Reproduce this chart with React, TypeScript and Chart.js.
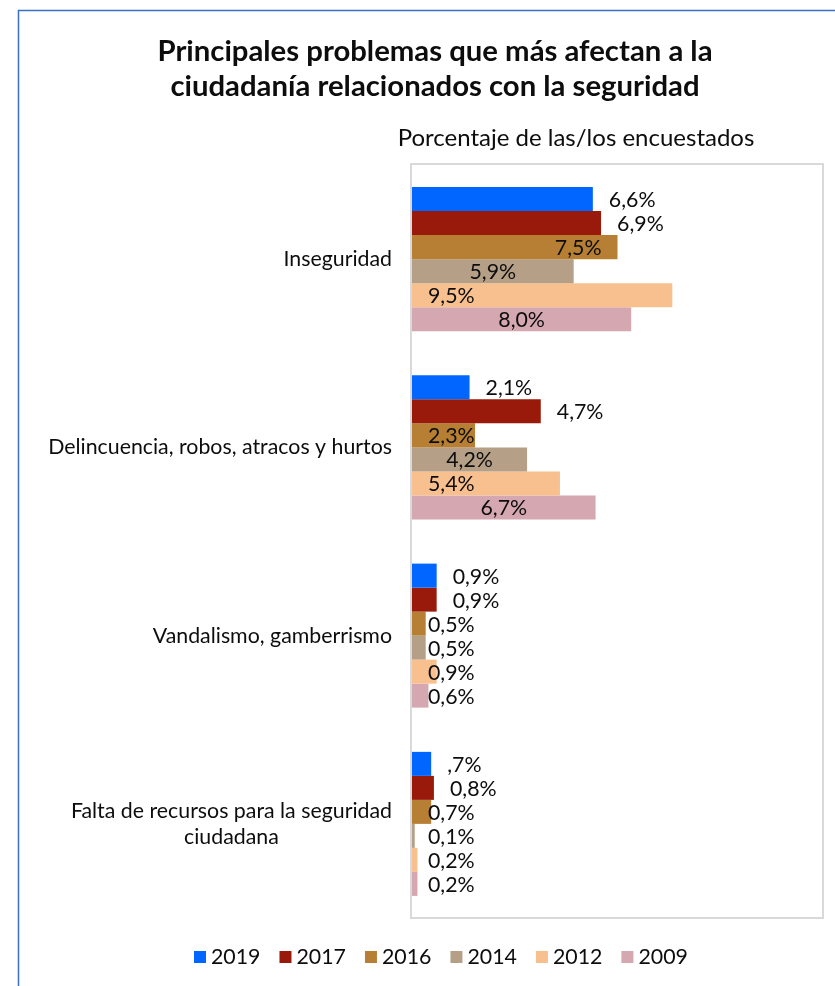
import React, { useEffect, useRef } from 'react';
import { Chart, registerables } from 'chart.js';

Chart.register(...registerables);

const titleLines = ['Principales problemas que más afectan a la', 'ciudadanía relacionados con la seguridad'];
const subtitle = 'Porcentaje de las/los encuestados';

const categories: string[][] = [
  ['Inseguridad'],
  ['Delincuencia, robos, atracos y hurtos'],
  ['Vandalismo, gamberrismo'],
  ['Falta de recursos para la seguridad', 'ciudadana'],
];

const years = ['2019', '2017', '2016', '2014', '2012', '2009'];

const v2019 = [6.6, 2.1, 0.9, 0.7];
const v2017 = [6.9, 4.7, 0.9, 0.8];
const v2016 = [7.5, 2.3, 0.5, 0.7];
const v2014 = [5.9, 4.2, 0.5, 0.1];
const v2012 = [9.5, 5.4, 0.9, 0.2];
const v2009 = [8.0, 6.7, 0.6, 0.2];

const seriesValues = [v2019, v2017, v2016, v2014, v2012, v2009];

// label text overrides (as shown in the original chart)
const labelOverrides: Record<string, string> = { '0-3': ',7%' };

// where each data label sits relative to its bar
const placements: string[][] = [
  ['out', 'out', 'out', 'out'],
  ['out', 'out', 'out', 'out'],
  ['insideEnd', 'insideBase', 'insideBase', 'insideBase'],
  ['center', 'center', 'insideBase', 'insideBase'],
  ['insideBase', 'insideBase', 'insideBase', 'insideBase'],
  ['center', 'center', 'insideBase', 'insideBase'],
];

const colors = ['#0066FF', '#991A0B', '#B67F34', '#B59F87', '#F9C08F', '#D5A7B0'];

const FONT = 'Lato, "Open Sans", sans-serif';
const TEXT = '#0d0d0d';

const fmt = (v: number) => v.toFixed(1).replace('.', ',') + '%';

const overlay = {
  id: 'overlay',
  afterDraw(chart: any) {
    const ctx = chart.ctx as CanvasRenderingContext2D;
    const area = chart.chartArea;
    const W = chart.width;
    const H = chart.height;
    ctx.save();

    // outer frame
    ctx.strokeStyle = '#3A6FC4';
    ctx.lineWidth = 1.5;
    ctx.beginPath();
    ctx.moveTo(18.5, H);
    ctx.lineTo(18.5, 10.5);
    ctx.lineTo(W, 10.5);
    ctx.stroke();

    // plot frame
    ctx.strokeStyle = '#D9D9D9';
    ctx.lineWidth = 2;
    ctx.strokeRect(area.left - 1, area.top - 1, area.right - area.left + 1, area.bottom - area.top + 1);

    // title
    ctx.fillStyle = TEXT;
    ctx.textAlign = 'center';
    ctx.textBaseline = 'middle';
    ctx.font = `bold 29.3px ${FONT}`;
    ctx.fillText(titleLines[0], 435, 52);
    ctx.fillText(titleLines[1], 435, 87);

    // subtitle
    ctx.font = `24px ${FONT}`;
    ctx.fillText(subtitle, 576, 138);

    // category labels
    ctx.font = `21.33px ${FONT}`;
    const yScale = chart.scales.y;
    const rightEdge = area.left - 20;
    categories.forEach((lines, i) => {
      const cy = yScale.getPixelForValue(i);
      const widths = lines.map((l) => ctx.measureText(l).width);
      const wMax = Math.max(...widths);
      const cx = rightEdge - wMax / 2;
      const lh = 26;
      const y0 = cy - ((lines.length - 1) * lh) / 2;
      ctx.textAlign = 'center';
      lines.forEach((l, k) => ctx.fillText(l, cx, y0 + k * lh));
    });

    // data labels
    ctx.font = `21.33px ${FONT}`;
    seriesValues.forEach((vals, s) => {
      const meta = chart.getDatasetMeta(s);
      vals.forEach((v, j) => {
        const el: any = meta.data[j];
        const text = labelOverrides[`${s}-${j}`] ?? fmt(v);
        const mode = placements[s][j];
        const base = el.base;
        const end = el.x;
        let x = 0;
        if (mode === 'out') {
          ctx.textAlign = 'left';
          x = end + 16;
        } else if (mode === 'insideBase') {
          ctx.textAlign = 'left';
          x = base + 16;
        } else if (mode === 'insideEnd') {
          ctx.textAlign = 'right';
          x = end - 16;
        } else {
          ctx.textAlign = 'center';
          x = (base + end) / 2;
        }
        ctx.fillText(text, x, el.y + 1);
      });
    });

    // legend
    ctx.font = `21.33px ${FONT}`;
    ctx.textAlign = 'left';
    let lx = 194;
    const ly = 957;
    years.forEach((y, i) => {
      ctx.fillStyle = colors[i];
      ctx.fillRect(lx, ly - 6, 12, 12);
      ctx.fillStyle = TEXT;
      ctx.fillText(y, lx + 17, ly);
      lx += 17 + ctx.measureText(y).width + 19;
    });

    ctx.restore();
  },
};

export default function App() {
  const ref = useRef<HTMLCanvasElement>(null);
  useEffect(() => {
    if (!ref.current) return;
    const chart = new Chart(ref.current, {
      type: 'bar',
      data: {
        labels: categories.map((c) => c.join(' ')),
        datasets: years.map((y, i) => ({
          label: y,
          data: seriesValues[i],
          backgroundColor: colors[i],
          borderWidth: 0,
          barPercentage: 1,
          categoryPercentage: 0.765,
        })),
      },
      options: {
        indexAxis: 'y',
        animation: false,
        responsive: false,
        maintainAspectRatio: false,
        devicePixelRatio: 1,
        layout: { padding: { left: 412, right: 12, top: 165, bottom: 68 } },
        scales: {
          x: { type: 'linear', min: 0, max: 15, display: false },
          y: { type: 'category', display: false },
        },
        plugins: {
          legend: { display: false },
          title: { display: false },
          tooltip: { enabled: false },
        },
      },
      plugins: [overlay],
    });
    return () => chart.destroy();
  }, []);
  return (
    <div style={{ position: 'absolute', left: 0, top: 0, width: 835, height: 986, background: '#fff' }}>
      <canvas ref={ref} width={835} height={986} style={{ display: 'block' }} />
    </div>
  );
}
